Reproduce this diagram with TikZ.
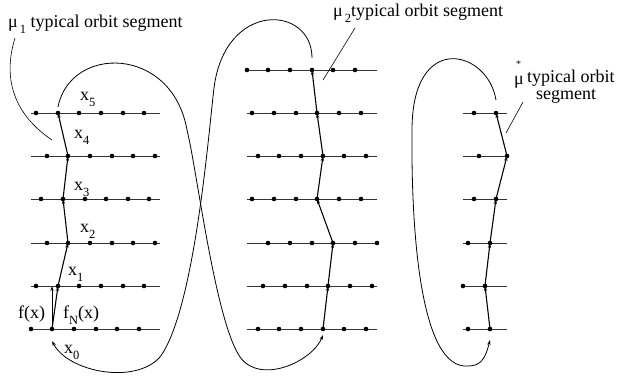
\documentclass[tikz,border=0pt]{standalone}
\usepackage{fontspec}
\setmainfont{Liberation Serif}
\newfontfamily\labfont{Liberation Serif}
\usetikzlibrary{arrows.meta}
\newcommand{\lowsub}[1]{\raisebox{-0.35em}{\fontsize{12.5}{13}\selectfont #1}}
\tikzset{
  >={Stealth[length=5pt,width=3.2pt]},
  rowline/.style={draw=black!80,line width=0.8pt},
  dotpt/.style={circle,fill=black,inner sep=0pt,minimum size=4.6pt},
  orb/.style={->,line width=1.1pt},
  loopline/.style={->,line width=0.8pt},
  leader/.style={line width=0.6pt},
  lab/.style={font=\labfont\fontsize{18}{20}\selectfont,inner sep=0pt,anchor=base west},
}
\begin{document}
\begin{tikzpicture}[x=1pt,y=-1pt]
\useasboundingbox (0,0) rectangle (620,378);

% rows
\foreach \y in {113,156,199,243,286,329}
  \draw[rowline] (31,\y) -- (160,\y);
\foreach \y in {70,113,156,199,243,286,329}
  \draw[rowline] (247,\y) -- (377,\y);
\foreach \y in {113,156,199,243,286,329}
  \draw[rowline] (463,\y) -- (507,\y);

% orbit points
\coordinate (l0) at (52,329);  \coordinate (l1) at (58,286);  \coordinate (l2) at (68,243);
\coordinate (l3) at (63,199);  \coordinate (l4) at (68,156);  \coordinate (l5) at (58,113);
\coordinate (fx) at (52,286);
\coordinate (m0) at (323,329); \coordinate (m1) at (328,286); \coordinate (m2) at (333,243);
\coordinate (m3) at (317,199); \coordinate (m4) at (323,156); \coordinate (m5) at (317,113);
\coordinate (m6) at (312,70);
\coordinate (r0) at (490,329); \coordinate (r1) at (485,286); \coordinate (r2) at (490,243);
\coordinate (r3) at (496,199); \coordinate (r4) at (507,156); \coordinate (r5) at (496,113);

% orbit segments
\foreach \a/\b in {0/1,1/2,2/3,3/4,4/5} \draw[orb] (l\a) -- (l\b);
\draw[orb,line width=0.8pt] (l0) -- (fx);
\foreach \a/\b in {0/1,1/2,2/3,3/4,4/5,5/6} \draw[orb] (m\a) -- (m\b);
\foreach \a/\b in {0/1,1/2,2/3,3/4,4/5} \draw[orb] (r\a) -- (r\b);

% dots
\foreach \y/\xs in {113/{36,58,79,101,123,144},156/{47,68,90,112,133,155},199/{41,63,85,106,128,149},
                    243/{47,68,90,112,133,155},286/{36,58,79,101,123,144},329/{31,52,74,96,117,139}}{
  \foreach \x in \xs \node[dotpt] (L-\y-\x) at (\x,\y) {};
}
\foreach \y/\xs in {70/{247,268,290,312,333,355},113/{252,274,296,317,339,361},156/{258,279,301,323,344,366},
                    199/{252,274,296,317,339,361},243/{268,290,312,333,355,377},286/{263,285,307,328,350,372},
                    329/{258,279,301,323,344,366}}{
  \foreach \x in \xs \node[dotpt] (M-\y-\x) at (\x,\y) {};
}
\foreach \y/\xs in {113/{474,496},156/{479,507},199/{474,496},243/{468,490},286/{463,485},329/{468,490}}{
  \foreach \x in \xs \node[dotpt] (R-\y-\x) at (\x,\y) {};
}

% return curves
\draw[loopline] ([yshift=6pt]l5) .. controls (70,45) and (172,45) .. (187,130)
  .. controls (197,170) and (215,320) .. (240,357)
  .. controls (260,385) and (312,362) .. ([yshift=-6pt]m0);
\draw[loopline] ([yshift=12pt]m6) .. controls (312,5) and (225,0) .. (214,88)
  .. controls (209,128) and (195,310) .. (160,357)
  .. controls (135,385) and (68,372) .. ([yshift=-12pt]l0);
\draw[loopline] ([yshift=13pt]r5) .. controls (488,50) and (412,30) .. (412,130)
  .. controls (411,230) and (420,370) .. (468,366)
  .. controls (480,366) and (485,360) .. ([yshift=-11pt]r0);

% labels
\node[lab] (x5) at (80,100) {x\lowsub{5}};
\node[lab] (x4) at (74,138) {x\lowsub{4}};
\node[lab] (x3) at (74,190) {x\lowsub{3}};
\node[lab] (x2) at (80,232) {x\lowsub{2}};
\node[lab] (x1) at (68,275) {x\lowsub{1}};
\node[lab] (fxlab) at (18,318) {f(x)};
\node[lab] (fnlab) at (63,318) {f\lowsub{N}(x)};
\node[lab] (x0) at (64,353) {x\lowsub{0}};

\node[lab] (mu1) at (8,27) {μ\lowsub{\,1} typical orbit segment};
\node[lab] (mu2) at (333,16) {μ\lowsub{\,2}typical orbit segment};
\node[lab] (mustar) at (514,84) {μ};
\node[lab,font=\labfont\fontsize{10}{10}\selectfont] (star) at (516,67) {*};
\node[lab] (mustxt1) at (527,82) {typical orbit};
\node[lab] (mustxt2) at (536,99) {segment};

% leaders
\coordinate (mu1a) at (15,38);   \coordinate (mu1b) at (52,140);
\coordinate (mu2a) at (355,28);  \coordinate (mu2b) at (323,80);
\coordinate (musa) at (523,102); \coordinate (musb) at (506,133);
\draw[leader] (mu1a) .. controls (2,80) and (15,115) .. (mu1b);
\draw[leader] (mu2a) -- (mu2b);
\draw[leader] (musa) -- (musb);
\end{tikzpicture}
\end{document}
